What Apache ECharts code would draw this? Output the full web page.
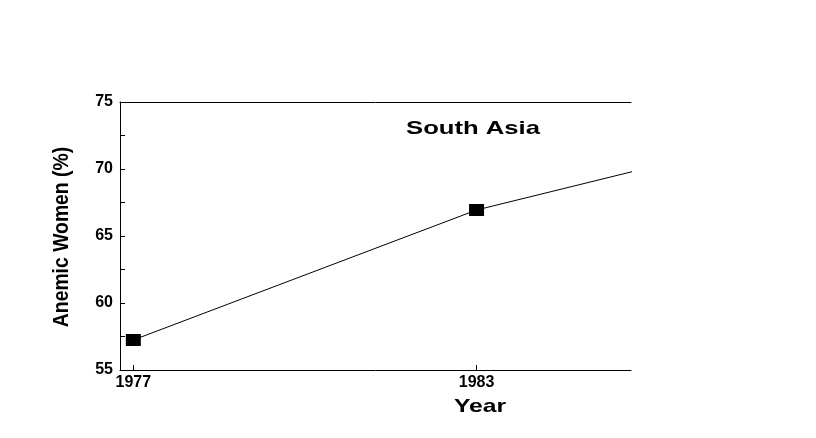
<!DOCTYPE html>
<html>
<head>
<meta charset="utf-8">
<script src="https://cdn.jsdelivr.net/npm/echarts@6/dist/echarts.min.js"></script>
<style>html,body{margin:0;padding:0;background:#fff;}#c{width:816px;height:438px;}</style>
</head>
<body>
<div id="c"></div>
<script>
const years = [1977, 1983, 1990];
const anemic = [57.24, 66.94, 74.3];
const xTickYears = [1977, 1983];
const yTicks = [55, 60, 65, 70, 75];
const titleText = 'South Asia';
const xName = 'Year';
const yName = 'Anemic Women (%)';

const chart = echarts.init(document.getElementById('c'));
const numFont = { fontFamily: 'Liberation Sans, Arial, sans-serif', fontWeight: 'bold', fontSize: 16, color: '#000' };
chart.setOption({
  animation: false,
  backgroundColor: '#fff',
  grid: { left: 120, right: 185, top: 102, bottom: 68, containLabel: false },
  xAxis: [{
    type: 'value', min: 1976.767, max: 1985.70,
    axisLine: { show: true, onZero: false, lineStyle: { color: '#000', width: 1 } },
    axisTick: { show: true, inside: true, length: 5, customValues: xTickYears, lineStyle: { color: '#000' } },
    axisLabel: Object.assign({ show: true, margin: 5, customValues: xTickYears, formatter: v => String(v) }, numFont),
    splitLine: { show: false }
  }, {
    type: 'value', position: 'top', min: 1976.767, max: 1985.70,
    axisLine: { show: true, lineStyle: { color: '#000', width: 1 } },
    axisTick: { show: false }, axisLabel: { show: false }, splitLine: { show: false }
  }],
  yAxis: {
    type: 'value', min: 55, max: 75, interval: 2.5,
    axisLine: { show: true, onZero: false, lineStyle: { color: '#000', width: 1 } },
    axisTick: { show: true, inside: true, length: 5, lineStyle: { color: '#000' } },
    axisLabel: Object.assign({ margin: 7, formatter: v => (yTicks.indexOf(v) >= 0 ? String(v) : '') }, numFont),
    splitLine: { show: false }
  },
  series: [{
    type: 'line',
    data: years.map((y, i) => [y, anemic[i]]),
    clip: true,
    symbol: 'rect', symbolSize: [15, 12],
    lineStyle: { color: '#000', width: 1 },
    itemStyle: { color: '#000' }
  }],
  graphic: [
    { type: 'text', x: 473, y: 129, scaleX: 1.35, style: { text: titleText, fill: '#000', font: 'bold 19px "Liberation Sans", Arial, sans-serif', align: 'center', verticalAlign: 'middle' } },
    { type: 'text', x: 480, y: 407, scaleX: 1.3, style: { text: xName, fill: '#000', font: 'bold 19px "Liberation Sans", Arial, sans-serif', align: 'center', verticalAlign: 'middle' } },
    { type: 'text', x: 62, y: 237, rotation: Math.PI / 2, scaleX: 0.88, style: { text: yName, fill: '#000', font: 'bold 22px "Liberation Sans", Arial, sans-serif', align: 'center', verticalAlign: 'middle' } }
  ]
});
</script>
</body>
</html>
